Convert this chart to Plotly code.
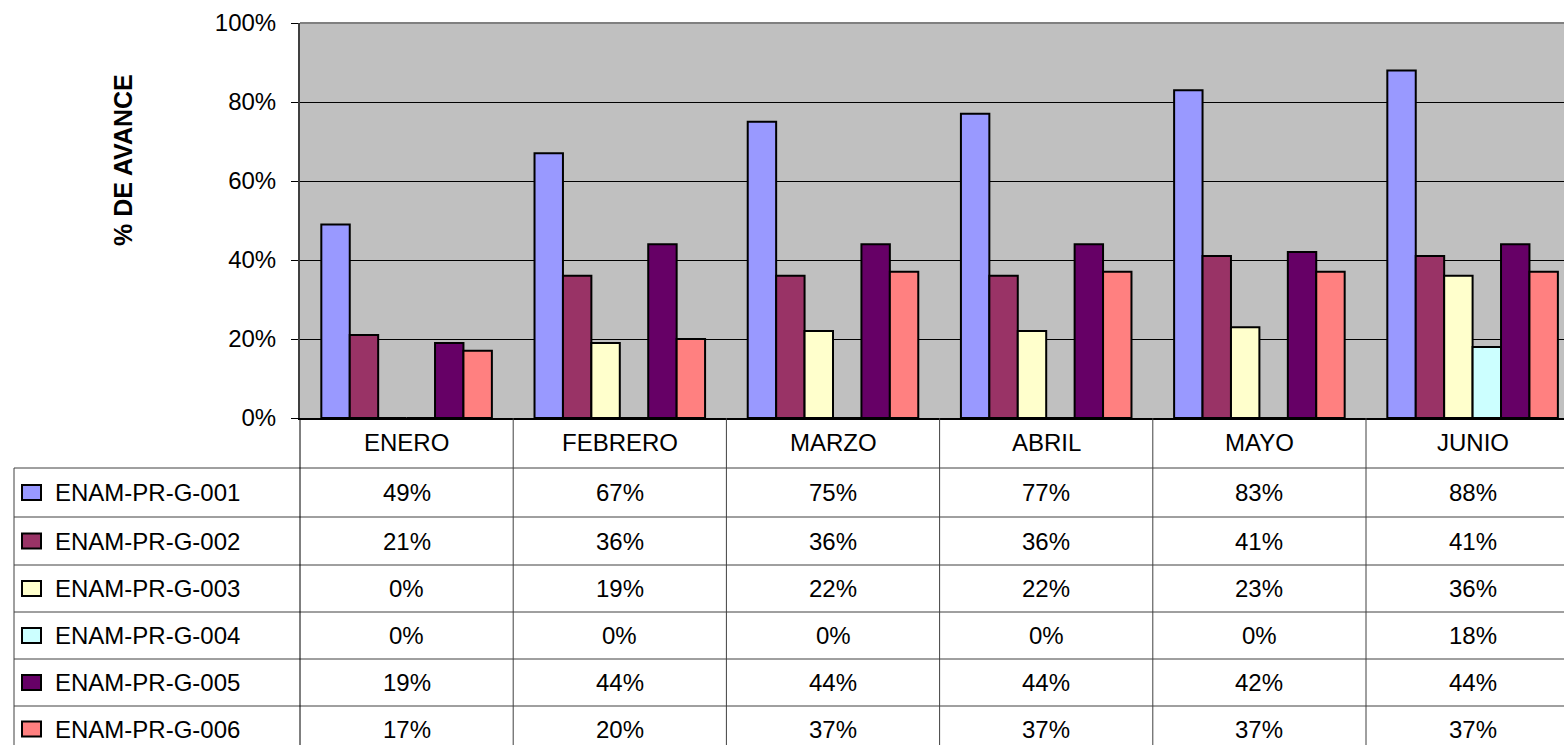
import plotly.graph_objects as go

meses = ["ENERO", "FEBRERO", "MARZO", "ABRIL", "MAYO", "JUNIO"]
series = ["ENAM-PR-G-001", "ENAM-PR-G-002", "ENAM-PR-G-003",
          "ENAM-PR-G-004", "ENAM-PR-G-005", "ENAM-PR-G-006"]
g001 = [49, 67, 75, 77, 83, 88]
g002 = [21, 36, 36, 36, 41, 41]
g003 = [0, 19, 22, 22, 23, 36]
g004 = [0, 0, 0, 0, 0, 18]
g005 = [19, 44, 44, 44, 42, 44]
g006 = [17, 20, 37, 37, 37, 37]
valores = [g001, g002, g003, g004, g005, g006]
colores = ["#9999FF", "#993366", "#FFFFCC", "#CCFFFF", "#660066", "#FF8080"]
y_ticks = [0, 20, 40, 60, 80, 100]
y_labels = ["0%", "20%", "40%", "60%", "80%", "100%"]

W, H = 1564, 745
L, T, B = 300, 23, 327
pw, ph = W - L, H - T - B
cat_w = 213.2
x0 = -0.5
x1 = x0 + pw / cat_w

def px_x(px):
    return (px - L) / pw

def px_y(py):
    return (H - B - py) / ph

fig = go.Figure()
for nombre, vals, col in zip(series, valores, colores):
    fig.add_trace(go.Bar(
        x=list(range(len(meses))), y=vals, name=nombre,
        marker=dict(color=col, line=dict(color="black", width=2)),
        showlegend=False
    ))

font = "Arial, Liberation Sans, sans-serif"
fsize = 24
shapes = []
annotations = []

# borde superior del area de trazado
shapes.append(dict(type="line", xref="paper", yref="paper", x0=0, x1=1, y0=1, y1=1,
                   line=dict(color="#808080", width=2)))

# tabla de datos
row_lines = [468, 517, 565, 612, 659, 706]
tbl_col = "#404040"
for py in row_lines:
    shapes.append(dict(type="line", xref="paper", yref="paper",
                       x0=px_x(14), x1=1, y0=px_y(py), y1=px_y(py),
                       line=dict(color=tbl_col, width=1)))
shapes.append(dict(type="line", xref="paper", yref="paper",
                   x0=px_x(14), x1=px_x(14), y0=px_y(468), y1=px_y(H),
                   line=dict(color=tbl_col, width=1)))
for k in range(len(meses)):
    xb = px_x(L + k * cat_w)
    shapes.append(dict(type="line", xref="paper", yref="paper",
                       x0=xb, x1=xb, y0=0, y1=px_y(H),
                       line=dict(color="black" if k == 0 else tbl_col, width=1)))

for k, m in enumerate(meses):
    annotations.append(dict(x=k, y=px_y(443), xref="x", yref="paper", text=m,
                            showarrow=False, font=dict(family=font, size=fsize, color="black"),
                            xanchor="center", yanchor="middle"))

for r, (nombre, vals, col) in enumerate(zip(series, valores, colores)):
    top = row_lines[r]
    bot = row_lines[r + 1] if r + 1 < len(row_lines) else top + 46
    cy = (top + bot) / 2
    shapes.append(dict(type="rect", xref="paper", yref="paper",
                       x0=px_x(22), x1=px_x(41), y0=px_y(cy - 7.5), y1=px_y(cy + 7.5),
                       fillcolor=col, line=dict(color="black", width=2)))
    annotations.append(dict(x=px_x(53), y=px_y(cy), xref="paper", yref="paper",
                            text=nombre, showarrow=False,
                            font=dict(family=font, size=fsize, color="black"),
                            xanchor="left", yanchor="middle"))
    for k, v in enumerate(vals):
        annotations.append(dict(x=k, y=px_y(cy), xref="x", yref="paper",
                                text=f"{v}%", showarrow=False,
                                font=dict(family=font, size=fsize, color="black"),
                                xanchor="center", yanchor="middle"))

annotations.append(dict(x=px_x(123), y=px_y(160), xref="paper", yref="paper",
                        text="<b>% DE AVANCE</b>", textangle=-90, showarrow=False,
                        font=dict(family=font, size=25, color="black"),
                        xanchor="center", yanchor="middle"))

fig.update_layout(
    width=W, height=H,
    margin=dict(l=L, r=0, t=T, b=B, autoexpand=False),
    paper_bgcolor="white",
    plot_bgcolor="#C0C0C0",
    barmode="group", bargap=0.2, bargroupgap=0,
    shapes=shapes, annotations=annotations,
    xaxis=dict(range=[x0, x1], showticklabels=False, showgrid=False, zeroline=False,
               showline=True, linecolor="black", linewidth=2, ticks="", automargin=False),
    yaxis=dict(range=[0, 100], tickmode="array", tickvals=y_ticks, ticktext=y_labels,
               showgrid=True, gridcolor="black", gridwidth=1, zeroline=False,
               showline=True, linecolor="#404040", linewidth=2, automargin=False,
               ticks="outside", ticklen=7, tickcolor="black", ticklabelstandoff=10,
               tickfont=dict(family=font, size=fsize, color="black")),
)

# quitar el margen por defecto del <body> para que la figura empiece en (0, 0)
fig.write_html("out.html", config={"displayModeBar": False},
               post_script="document.body.style.margin='0';")
